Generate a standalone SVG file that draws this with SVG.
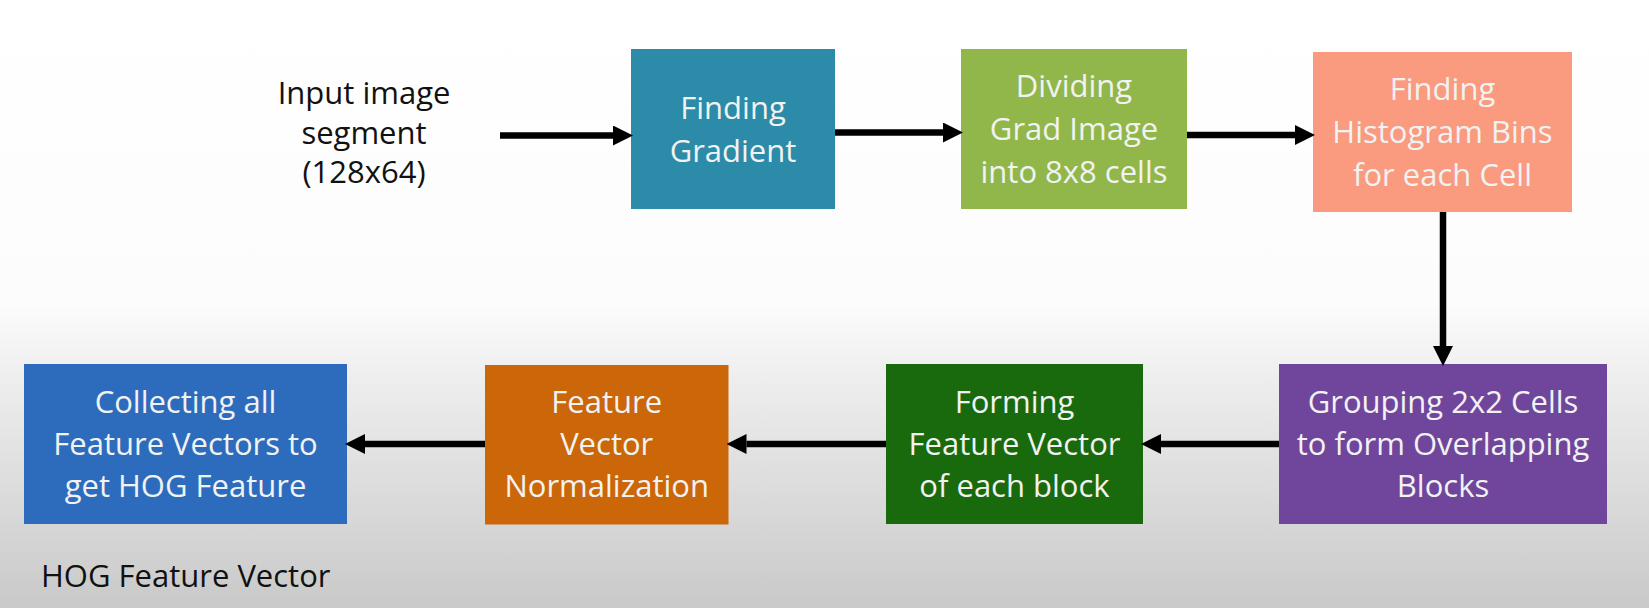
<svg xmlns="http://www.w3.org/2000/svg" width="1649" height="608" viewBox="0 0 1649 608">
<defs>
<linearGradient id="bg" x1="0" y1="0" x2="0" y2="1">
<stop offset="0" stop-color="#ffffff"/>
<stop offset="0.5" stop-color="#fcfcfc"/>
<stop offset="0.62" stop-color="#eeeeee"/>
<stop offset="1" stop-color="#c9c9c9"/>
</linearGradient>
<marker id="ah" markerUnits="userSpaceOnUse" markerWidth="20" markerHeight="20" viewBox="0 0 18 18" refX="0" refY="9" orient="auto">
<path d="M0,0 L18,9 L0,18 Z" fill="#000"/>
</marker>
<style>
.box text{font-family:"Open Sans","Noto Sans","DejaVu Sans",sans-serif;font-size:31px;fill:#f1f2f2;text-anchor:middle}
.lbl{font-family:"Open Sans","Noto Sans","DejaVu Sans",sans-serif;font-size:31px;fill:#111}
.conn line{stroke:#000;stroke-width:6.5;marker-end:url(#ah)}
</style>
</defs>
<rect x="0" y="0" width="1649" height="608" fill="url(#bg)"/>

<g id="input">
<text class="lbl" text-anchor="middle"><tspan x="364" y="104">Input image</tspan><tspan x="364" y="144">segment</tspan><tspan x="364" y="183">(128x64)</tspan></text>
</g>

<g id="gradient" class="box">
<rect x="631" y="49" width="204" height="160" fill="#2b8ba8"/>
<text><tspan x="733" y="119">Finding</tspan><tspan x="733" y="161.5">Gradient</tspan></text>
</g>

<g id="dividing" class="box">
<rect x="961" y="49" width="226" height="160" fill="#91b74a"/>
<text><tspan x="1074" y="97">Dividing</tspan><tspan x="1074" y="140">Grad Image</tspan><tspan x="1074" y="183">into 8x8 cells</tspan></text>
</g>

<g id="histogram" class="box">
<rect x="1313" y="52" width="259" height="160" fill="#fa9a7e"/>
<text><tspan x="1442.5" y="100">Finding</tspan><tspan x="1442.5" y="143">Histogram Bins</tspan><tspan x="1442.5" y="186">for each Cell</tspan></text>
</g>

<g id="grouping" class="box">
<rect x="1279" y="364" width="328" height="160" fill="#70469c"/>
<text><tspan x="1443" y="413">Grouping 2x2 Cells</tspan><tspan x="1443" y="455">to form Overlapping</tspan><tspan x="1443" y="497">Blocks</tspan></text>
</g>

<g id="forming" class="box">
<rect x="886" y="364" width="257" height="160" fill="#196a0c"/>
<text><tspan x="1014.5" y="413">Forming</tspan><tspan x="1014.5" y="455">Feature Vector</tspan><tspan x="1014.5" y="497">of each block</tspan></text>
</g>

<g id="normalization" class="box">
<rect x="485" y="365" width="243.5" height="159.5" fill="#cb6609"/>
<text><tspan x="606.7" y="413">Feature</tspan><tspan x="606.7" y="455">Vector</tspan><tspan x="606.7" y="497">Normalization</tspan></text>
</g>

<g id="collecting" class="box">
<rect x="24" y="364" width="323" height="160" fill="#2d6cbc"/>
<text><tspan x="185.5" y="413">Collecting all</tspan><tspan x="185.5" y="455">Feature Vectors to</tspan><tspan x="185.5" y="497">get HOG Feature</tspan></text>
</g>

<g id="hog-label">
<text class="lbl" x="41" y="587">HOG Feature Vector</text>
</g>

<g id="connectors" class="conn">
<line x1="500" y1="135.5" x2="613" y2="135.5"/>
<line x1="835" y1="132.5" x2="943" y2="132.5"/>
<line x1="1187" y1="135" x2="1295" y2="135"/>
<line x1="1443" y1="212" x2="1443" y2="346"/>
<line x1="1279" y1="444" x2="1161" y2="444"/>
<line x1="886" y1="444" x2="746.5" y2="444"/>
<line x1="485" y1="444" x2="365" y2="444"/>
</g>
</svg>
